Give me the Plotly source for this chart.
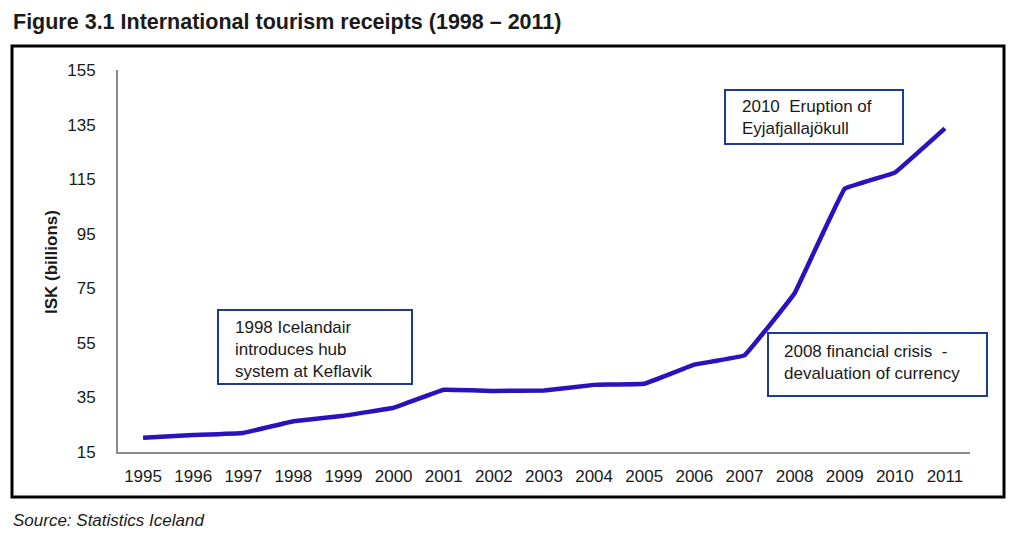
import plotly.graph_objects as go

years = [str(y) for y in range(1995, 2012)]
receipts = [20.2, 21.2, 22.0, 26.3, 28.3, 31.2, 37.8, 37.4, 37.5, 39.6, 40.0,
            47.0, 50.4, 73.2, 111.5, 117.4, 133.6]
y_ticks = [15, 35, 55, 75, 95, 115, 135, 155]

title_text = "Figure 3.1 International tourism receipts (1998 – 2011)"
source_text = "Source: Statistics Iceland"
y_title = "ISK (billions)"
notes = [
    "1998 Icelandair<br>introduces hub<br>system at Keflavik",
    "2010  Eruption of<br>Eyjafjallajökull",
    "2008 financial crisis  -<br>devaluation of currency",
]

OFF = 8  # page body margin
W, H = 1024 - OFF, 534 - OFF
L, R, T, B = 118, 970, 70, 452  # screen coordinates of plot area


def px(x):
    return (x - L) / (R - L)


def py(y):
    return (B - y) / (B - T)


fig = go.Figure()
fig.add_trace(go.Scatter(
    x=years, y=receipts, mode="lines",
    line=dict(color="#2A12BE", width=4.5, shape="spline", smoothing=0.15),
    hoverinfo="skip", showlegend=False,
))

font_main = "Liberation Sans, Arial, sans-serif"

fig.update_layout(
    width=W, height=H,
    margin=dict(l=L - OFF, r=1024 - R, t=T - OFF, b=534 - B),
    paper_bgcolor="white", plot_bgcolor="white",
    font=dict(family=font_main, size=17, color="#1a1a1a"),
    xaxis=dict(type="category", range=[-0.5, 16.5], showgrid=False,
               showline=True, linecolor="#8c8c8c", linewidth=2,
               ticks="", ticklabelstandoff=8, zeroline=False,
               tickfont=dict(size=17, color="#1a1a1a")),
    yaxis=dict(range=[15, 155], tickvals=y_ticks, showgrid=False,
               showline=True, linecolor="#8c8c8c", linewidth=2,
               ticks="", ticklabelstandoff=17, zeroline=False,
               tickfont=dict(size=17, color="#1a1a1a")),
)

shapes = []
shapes.append(dict(type="rect", xref="paper", yref="paper",
                   x0=px(12), x1=px(1004), y0=py(497), y1=py(46),
                   line=dict(color="black", width=3), layer="below"))
boxes = [(218, 310, 412, 384), (725, 90, 903, 144), (768, 333, 987, 396)]
text_pos = [(233, 316), (740, 95), (782, 340)]
for (x0, y0, x1, y1) in boxes:
    shapes.append(dict(type="rect", xref="paper", yref="paper",
                       x0=px(x0), x1=px(x1), y0=py(y1), y1=py(y0),
                       line=dict(color="#1F3A93", width=2),
                       fillcolor="white", layer="above"))
fig.update_layout(shapes=shapes)

annotations = []
for (tx, ty), txt in zip(text_pos, notes):
    annotations.append(dict(x=px(tx), y=py(ty), xref="paper", yref="paper",
                            xanchor="left", yanchor="top", align="left",
                            text=txt, showarrow=False,
                            font=dict(size=17, color="#1a1a1a", family=font_main)))
annotations.append(dict(x=px(11), y=py(22), xref="paper", yref="paper",
                        xanchor="left", yanchor="middle", showarrow=False,
                        text="<b>" + title_text + "</b>",
                        font=dict(size=21.5, color="#1a1a1a", family=font_main)))
annotations.append(dict(x=px(11), y=py(520), xref="paper", yref="paper",
                        xanchor="left", yanchor="middle", showarrow=False,
                        text="<i>" + source_text + "</i>",
                        font=dict(size=17, color="#1a1a1a", family=font_main)))
annotations.append(dict(x=px(51), y=py(262), xref="paper", yref="paper",
                        xanchor="center", yanchor="middle", showarrow=False,
                        textangle=-90, text="<b>" + y_title + "</b>",
                        font=dict(size=17, color="#1a1a1a", family=font_main)))
fig.update_layout(annotations=annotations)

fig.write_html("out.html")
